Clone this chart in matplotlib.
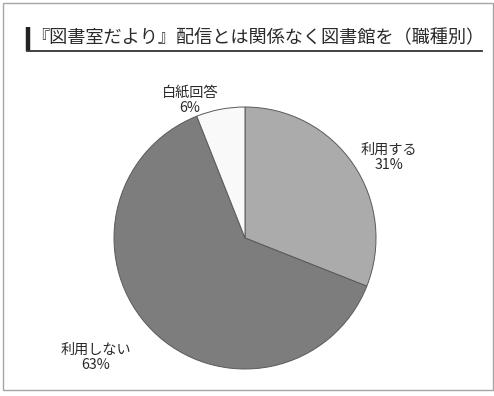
import matplotlib.pyplot as plt
from matplotlib.patches import Rectangle
from matplotlib.lines import Line2D

plt.rcParams['font.family'] = ['Noto Sans CJK JP', 'DejaVu Sans']

title = '『図書室だより』配信とは関係なく図書館を（職種別）'
labels = ['利用する', '利用しない', '白紙回答']
shares = [31, 63, 6]
colors = ['#ababab', '#7d7d7d', '#f9f9f9']

W, H = 494, 396
fig = plt.figure(figsize=(W / 100, H / 100), dpi=100)

def fx(px):
    return px / W

def fy(py):
    return 1 - py / H

# outer frame
fig.patches.append(Rectangle((fx(3), fy(390)), fx(490), (387) / H, transform=fig.transFigure,
                             fill=False, edgecolor='#a5a5a5', linewidth=1.0))

# title with side bar and underline
fig.lines.append(Line2D([fx(27.5), fx(27.5)], [fy(27), fy(51)], transform=fig.transFigure,
                        color='#222222', linewidth=3.2, solid_capstyle='butt'))
fig.lines.append(Line2D([fx(27), fx(482)], [fy(50.5), fy(50.5)], transform=fig.transFigure,
                        color='#333333', linewidth=1.3))
fig.text(fx(31), fy(38), title, fontsize=13.1, color='#2a2a2a', va='center', ha='left')

# pie
cx, cy, r = 245, 238, 131
ax = fig.add_axes([fx(cx - r), fy(cy + r), 2 * r / W, 2 * r / H])
ax.pie(shares, colors=colors, startangle=90, counterclock=False, radius=1,
       wedgeprops=dict(edgecolor='#5a5a5a', linewidth=0.7))
ax.set_xlim(-1, 1)
ax.set_ylim(-1, 1)
ax.axis('off')

def to_data(px, py):
    return (px - cx) / r, (cy - py) / r

label_pos = [(389, 157), (96, 357), (190, 100)]
for name, val, (px, py) in zip(labels, shares, label_pos):
    x, y = to_data(px, py)
    ax.text(x, y, f'{name}\n{val}%', ha='center', va='center', fontsize=10.2,
            color='#2a2a2a', linespacing=1.1, clip_on=False)

fig.savefig('out.png', dpi=100)
